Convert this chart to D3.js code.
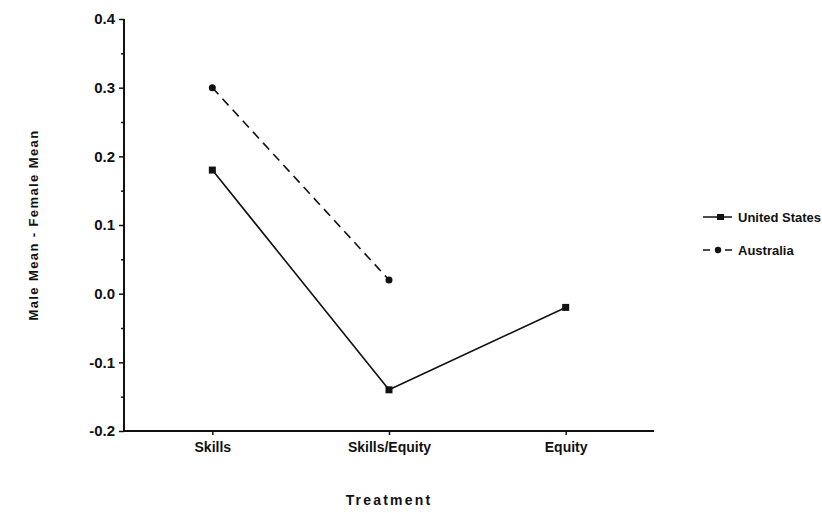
<!DOCTYPE html>
<html>
<head>
<meta charset="utf-8">
<script src="https://cdn.jsdelivr.net/npm/d3@7"></script>
<style>
  body { margin: 0; background: #fff; }
  text { font-family: "Liberation Sans", Arial, sans-serif; font-weight: bold; fill: #111; }
</style>
</head>
<body>
<script>
// data
const treatments = ['Skills', 'Skills/Equity', 'Equity'];
const usValues = [0.18, -0.14, -0.02];
const ausValues = [0.30, 0.02, null];
const yTicks = [-0.2, -0.1, 0.0, 0.1, 0.2, 0.3, 0.4];
const seriesNames = ['United States', 'Australia'];

const width = 822, height = 513;
const plotLeft = 124, plotRight = 654, plotTop = 19, plotBottom = 431;

const svg = d3.select('body').append('svg')
  .attr('width', width)
  .attr('height', height);

let x = d3.scalePoint()
  .domain(treatments)
  .range([plotLeft, plotRight])
  .padding(0.5);

let y = d3.scaleLinear()
  .domain([-0.2, 0.4])
  .range([plotBottom, plotTop]);

// plain hyphen for negatives, like the original
const fmt = d => d3.format('.1f')(d).replace('\u2212', '-');

// y axis, major ticks
let yAxis = svg.append('g')
  .attr('transform', `translate(${plotLeft},0)`)
  .call(d3.axisLeft(y).tickValues(yTicks).tickFormat(fmt).tickSize(5).tickPadding(4));

// minor ticks in between
svg.append('g')
  .attr('transform', `translate(${plotLeft},0)`)
  .call(d3.axisLeft(y).tickValues(d3.range(-0.15, 0.4, 0.1)).tickFormat('').tickSize(3))
  .select('.domain').remove();

let xAxis = svg.append('g')
  .attr('transform', `translate(0,${plotBottom})`)
  .call(d3.axisBottom(x).tickSize(4).tickPadding(7).tickSizeOuter(0));

svg.selectAll('.domain').attr('stroke', '#111').attr('stroke-width', 2);
svg.selectAll('.tick line').attr('stroke', '#111').attr('stroke-width', 1.5);
svg.selectAll('.tick text').style('font-size', '14px').attr('fill', '#111');
yAxis.selectAll('.tick text').style('font-size', '15px');
yAxis.select('.domain').attr('d', `M0,${plotBottom}V${plotTop}`);
xAxis.select('.domain').attr('d', `M${plotLeft},0H${plotRight}`);

// lines
const line = d3.line()
  .x(d => x(d.t))
  .y(d => y(d.v));

const us = treatments.map((t, i) => ({ t: t, v: usValues[i] }));
const aus = treatments.map((t, i) => ({ t: t, v: ausValues[i] })).filter(d => d.v !== null);

svg.append('path')
  .datum(us)
  .attr('d', line)
  .attr('fill', 'none')
  .attr('stroke', '#111')
  .attr('stroke-width', 1.6);

svg.append('path')
  .datum(aus)
  .attr('d', line)
  .attr('fill', 'none')
  .attr('stroke', '#111')
  .attr('stroke-width', 1.6)
  .attr('stroke-dasharray', '9,6');

svg.selectAll('.us-mark')
  .data(us)
  .enter().append('rect')
  .attr('x', d => x(d.t) - 3.5)
  .attr('y', d => y(d.v) - 3.5)
  .attr('width', 7)
  .attr('height', 7)
  .attr('fill', '#111');

svg.selectAll('.aus-mark')
  .data(aus)
  .enter().append('circle')
  .attr('cx', d => x(d.t))
  .attr('cy', d => y(d.v))
  .attr('r', 3.5)
  .attr('fill', '#111');

// legend
let legend = svg.append('g');
let lg1 = legend.append('g').attr('transform', 'translate(703,217)');
lg1.append('line').attr('x1', 0).attr('x2', 29).attr('stroke', '#111').attr('stroke-width', 1.5);
lg1.append('rect').attr('x', 14).attr('y', -3).attr('width', 7).attr('height', 6).attr('fill', '#111');
lg1.append('text').attr('x', 35).attr('dy', '0.35em').style('font-size', '13px').text(seriesNames[0]);

let lg2 = legend.append('g').attr('transform', 'translate(703,250)');
lg2.append('line').attr('x1', 0).attr('x2', 29).attr('stroke', '#111').attr('stroke-width', 1.5)
  .attr('stroke-dasharray', '7,15');
lg2.append('circle').attr('cx', 15).attr('cy', 0).attr('r', 3.2).attr('fill', '#111');
lg2.append('text').attr('x', 35).attr('dy', '0.35em').style('font-size', '13px').text(seriesNames[1]);

// axis titles
svg.append('text')
  .attr('transform', 'translate(38,225) rotate(-90)')
  .attr('text-anchor', 'middle')
  .style('font-size', '13px')
  .style('letter-spacing', '1.4px')
  .text('Male Mean - Female Mean');

svg.append('text')
  .attr('x', 389)
  .attr('y', 505)
  .attr('text-anchor', 'middle')
  .style('font-size', '14px')
  .style('letter-spacing', '2.2px')
  .text('Treatment');
</script>
</body>
</html>
